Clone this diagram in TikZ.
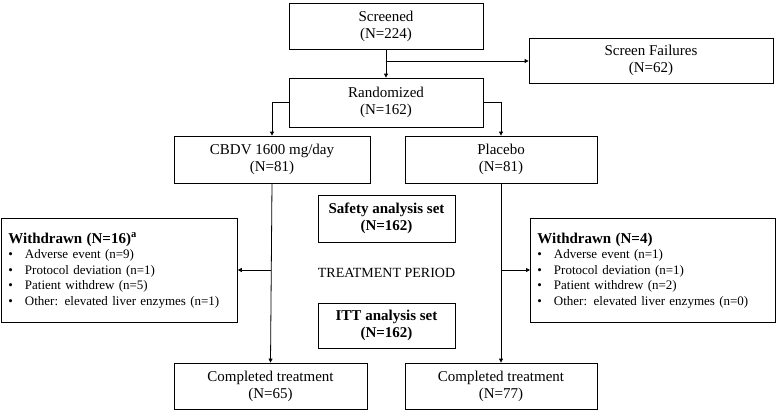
\documentclass[tikz,border=0pt]{standalone}
\usepackage{fontspec}
\setmainfont{Liberation Serif}
\usetikzlibrary{arrows.meta}
\begin{document}
\begin{tikzpicture}[x=1pt,y=-1pt,
  box/.style={draw,line width=0.8pt,rectangle,inner sep=0pt,align=center,font=\fontsize{15}{17}\selectfont},
  wd/.style={draw,line width=0.8pt,rectangle,inner sep=0pt,align=left,font=\fontsize{13}{15.5}\selectfont},
  arr/.style={line width=0.8pt,-{Triangle[length=4pt,width=4pt]}}]
\useasboundingbox (0,0) rectangle (777,410);
\node[box,minimum width=194pt,minimum height=46pt] (scr) at (386,26) {Screened\\(N=224)};
\node[box,minimum width=244pt,minimum height=45pt] (sf) at (651,60.5) {Screen Failures\\(N=62)};
\node[box,minimum width=194pt,minimum height=49pt] (ran) at (386,102.5) {Randomized\\(N=162)};
\node[box,minimum width=196pt,minimum height=47pt] (cb) at (272,159.5) {CBDV 1600 mg/day\\(N=81)};
\node[box,minimum width=192pt,minimum height=47pt] (pl) at (501,159.5) {Placebo\\(N=81)};
\node[box,minimum width=137pt,minimum height=47pt,font=\bfseries\fontsize{15}{17}\selectfont] (saf) at (386.5,218.5) {Safety analysis set\\(N=162)};
\node[font=\fontsize{14}{16}\selectfont] (tp) at (386.5,273) {TREATMENT PERIOD};
\node[box,minimum width=137pt,minimum height=45pt,font=\bfseries\fontsize{15}{17}\selectfont] (itt) at (386.5,325.5) {ITT analysis set\\(N=162)};
\node[box,minimum width=193pt,minimum height=46pt] (c1) at (270.5,386) {Completed treatment\\(N=65)};
\node[box,minimum width=192pt,minimum height=46pt] (c2) at (501,386) {Completed treatment\\(N=77)};
\node[wd,minimum width=236pt,minimum height=104pt,anchor=north west,text width=228pt] (w1) at (1,218) {\hspace*{3pt}\textbf{\fontsize{15}{17}\selectfont Withdrawn (N=16)\textsuperscript{a}}\\
\hspace*{3pt}\textbullet\hspace{12pt}Adverse event (n=9)\\
\hspace*{3pt}\textbullet\hspace{12pt}Protocol deviation (n=1)\\
\hspace*{3pt}\textbullet\hspace{12pt}Patient withdrew (n=5)\\
\hspace*{3pt}\textbullet\hspace{12pt}Other: elevated liver enzymes (n=1)};
\node[wd,minimum width=245pt,minimum height=104pt,anchor=north west,text width=237pt] (w2) at (530,218) {\hspace*{3pt}\textbf{\fontsize{15}{17}\selectfont Withdrawn (N=4)}\\
\hspace*{3pt}\textbullet\hspace{12pt}Adverse event (n=1)\\
\hspace*{3pt}\textbullet\hspace{12pt}Protocol deviation (n=1)\\
\hspace*{3pt}\textbullet\hspace{12pt}Patient withdrew (n=2)\\
\hspace*{3pt}\textbullet\hspace{12pt}Other: elevated liver enzymes (n=0)};
\coordinate (b1) at (386,61);
\draw[arr] (scr.south) -- (ran.north);
\draw[arr] (b1) -- (sf.west |- b1);
\draw[arr] (ran.west) -| (cb.north);
\draw[arr] (ran.east) -| (pl.north);
\draw[arr] (cb.south) -- (c1.north);
\draw[arr] (pl.south) -- (c2.north);
\coordinate (j1) at (271,270);
\coordinate (j2) at (501,270);
\draw[arr] (j1) -- (w1.east |- j1);
\draw[arr] (j2) -- (w2.west |- j2);
\end{tikzpicture}
\end{document}
